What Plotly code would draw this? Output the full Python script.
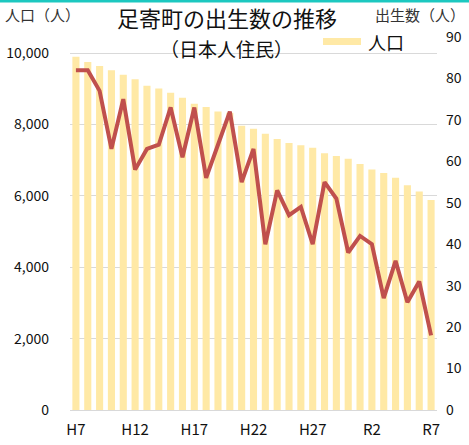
import plotly.graph_objects as go

years = ["H7", "H8", "H9", "H10", "H11", "H12", "H13", "H14", "H15", "H16",
         "H17", "H18", "H19", "H20", "H21", "H22", "H23", "H24", "H25", "H26",
         "H27", "H28", "H29", "H30", "R1", "R2", "R3", "R4", "R5", "R6", "R7"]
population = [9900, 9750, 9640, 9515, 9395, 9265, 9085, 9010, 8890, 8750,
              8580, 8490, 8360, 8330, 7965, 7880, 7740, 7590, 7480, 7420,
              7350, 7190, 7115, 7040, 6890, 6740, 6640, 6510, 6300, 6125, 5880]
births = [82, 82, 77, 63, 75, 58, 63, 64, 73, 61,
          73, 56, 64, 72, 55, 63, 40, 53, 47, 49,
          40, 55, 51, 38, 42, 40, 27, 36, 26, 31, 18]
tick_years = ["H7", "H12", "H17", "H22", "H27", "R2", "R7"]
left_ticks = [0, 2000, 4000, 6000, 8000, 10000]
left_ticktext = ["0", "2,000", "4,000", "6,000", "8,000", "10,000"]
right_ticks = [0, 10, 20, 30, 40, 50, 60, 70, 80, 90]

FONT = "Noto Sans CJK JP"
W, H = 469, 445
T, B, L, R = 37, 35, 70, 32
PH = H - T - B
BAR_COLOR = "#FFE9A6"


def px_x(x):
    return (x - L) / (W - L - R)


def px_y(y):
    return (H - B - y) / PH


fig = go.Figure()
fig.add_trace(go.Bar(x=years, y=population, name="人口", marker_color=BAR_COLOR,
                     marker_line_width=0, yaxis="y", showlegend=False))
fig.add_trace(go.Scatter(x=years, y=births, name="出生数", mode="lines",
                         line=dict(color="#C0504D", width=4), yaxis="y2",
                         showlegend=False))

fig.update_layout(
    width=W, height=H,
    margin=dict(l=L, r=R, t=T, b=B, autoexpand=False),
    paper_bgcolor="white", plot_bgcolor="white",
    font=dict(family=FONT, color="#222222"),
    bargap=0.4,
    showlegend=False,
    xaxis=dict(type="category", tickmode="array", tickvals=tick_years, ticktext=tick_years,
               showgrid=False, ticks="", tickfont=dict(size=15, color="#111111"),
               ticklabelstandoff=6,
               showline=True, linecolor="#d9d9d9", linewidth=1, automargin=False),
    yaxis=dict(range=[0, 10450], tickvals=left_ticks, ticktext=left_ticktext,
               showgrid=True, gridcolor="#d9d9d9", gridwidth=1, zeroline=False,
               tickfont=dict(size=14, color="#111111"), ticklabelstandoff=20,
               automargin=False),
    yaxis2=dict(range=[0, 90], overlaying="y", side="right", tickvals=right_ticks,
                showgrid=False, zeroline=False, tickfont=dict(size=14, color="#111111"),
                ticklabelstandoff=8, automargin=False),
    shapes=[dict(type="line", xref="paper", yref="paper", x0=px_x(0), x1=px_x(W),
                 y0=px_y(1), y1=px_y(1), line=dict(color="#1CC8C0", width=3)),
            dict(type="rect", xref="paper", yref="paper", x0=px_x(323), x1=px_x(361),
                 y0=px_y(45), y1=px_y(38), fillcolor=BAR_COLOR, line=dict(width=0))],
    annotations=[
        dict(text="足寄町の出生数の推移", x=px_x(227), y=px_y(17), xref="paper", yref="paper",
             showarrow=False, font=dict(size=22, color="#111111"), xanchor="center", yanchor="middle"),
        dict(text="（日本人住民）", x=px_x(226), y=px_y(48), xref="paper", yref="paper",
             showarrow=False, font=dict(size=19, color="#111111"), xanchor="center", yanchor="middle"),
        dict(text="人口", x=px_x(366), y=px_y(42), xref="paper", yref="paper",
             showarrow=False, font=dict(size=18, color="#111111"), xanchor="left", yanchor="middle"),
        dict(text="人口（人）", x=px_x(3), y=px_y(15), xref="paper", yref="paper",
             showarrow=False, font=dict(size=15, color="#333333"), xanchor="left", yanchor="middle"),
        dict(text="出生数（人）", x=px_x(467), y=px_y(15), xref="paper", yref="paper",
             showarrow=False, font=dict(size=15, color="#333333"), xanchor="right", yanchor="middle"),
    ],
)

fig.write_html("out.html", post_script="document.body.style.margin='0';",
               config={"displayModeBar": False})
